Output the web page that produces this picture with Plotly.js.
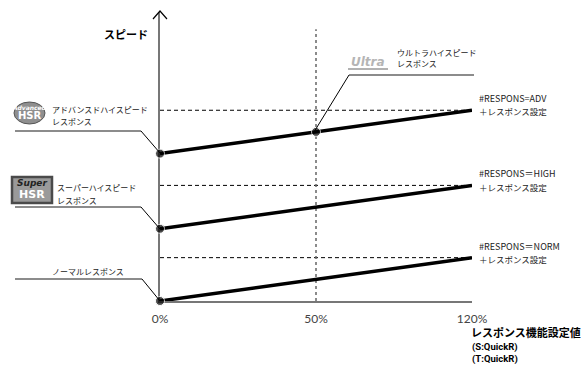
<!DOCTYPE html>
<html>
<head>
<meta charset="utf-8">
<script src="https://cdn.plot.ly/plotly-3.0.1.min.js"></script>
<style>html,body{margin:0;padding:0;background:#fff;}#chart{width:587px;height:368px;}</style>
</head>
<body>
<div id="chart"></div>
<script>
// ---- data ----
const xPos = [0, 1, 2];
const xLabels = ['0%', '50%', '120%'];
const advX = [0, 1, 2];
const advY = [51, 58.5, 66];
const highX = [0, 2];
const highY = [25, 40];
const normX = [0, 2];
const normY = [0, 15];
const refLevels = [66, 40, 15];
const guideX = [1, 1];
const guideY = [0, 94];
const seriesLabels = ['#RESPONS=ADV', '#RESPONS＝HIGH', '#RESPONS＝NORM'];
const seriesSub = '＋レスポンス設定';

const JP = '"Noto Sans CJK JP", "Noto Sans", sans-serif';
// pixel -> paper helpers (decorations only)
const L = 160, R = 472, T = 12, B = 301;
const px = x => (x - L) / (R - L);
const py = y => (B - y) / (B - T);

const traces = [];
refLevels.forEach(v => traces.push({
  x: [xPos[0], xPos[2]], y: [v, v], mode: 'lines', hoverinfo: 'skip',
  line: {color: '#000', width: 1, dash: '4px,3px'}, cliponaxis: false
}));
traces.push({x: guideX, y: guideY, mode: 'lines', hoverinfo: 'skip',
  line: {color: '#666', width: 1.5, dash: '3px,3px'}, cliponaxis: false});
const main = (xs, ys, sizes) => ({x: xs, y: ys, mode: 'lines+markers', cliponaxis: false,
  line: {color: '#000', width: 3.5}, marker: {color: '#000', size: sizes}});
traces.push(main(advX, advY, [9, 9, 0]));
traces.push(main(highX, highY, [9, 0]));
traces.push(main(normX, normY, [9, 0]));

const shapes = [];
const seg = (x0, y0, x1, y1, color, width) => shapes.push({type: 'line', xref: 'paper', yref: 'paper',
  x0: px(x0), y0: py(y0), x1: px(x1), y1: py(y1), line: {color: color, width: width}});
// arrow head on y axis
shapes.push({type: 'path', xref: 'paper', yref: 'paper',
  path: `M ${px(153)},${py(19)} L ${px(160)},${py(11)} L ${px(167)},${py(19)}`,
  line: {color: '#000', width: 1.2}});
// leader lines
seg(15, 131, 141, 131, '#666', 1.5); seg(141, 131, 160, 153, '#000', 1);
seg(15, 207, 141, 207, '#666', 1.5); seg(141, 207, 160, 229, '#000', 1);
seg(15, 279, 142, 279, '#666', 1.5); seg(142, 279, 160, 301, '#000', 1);
seg(349, 75, 474, 75, '#666', 1.5); seg(349, 75, 314, 132, '#000', 1);
// logos
shapes.push({type: 'circle', xref: 'paper', yref: 'paper', x0: px(14), x1: px(45), y0: py(124), y1: py(102),
  fillcolor: '#8f8f8f', line: {color: '#555', width: 1}});
shapes.push({type: 'rect', xref: 'paper', yref: 'paper', x0: px(12), x1: px(52), y0: py(203), y1: py(177),
  fillcolor: '#9a9a9a', line: {color: '#4a4a4a', width: 2.5}});
seg(348, 69, 388, 69, '#999', 1.5);

const annotations = [];
const txt = (x, y, text, size, opts) => annotations.push(Object.assign({
  xref: 'paper', yref: 'paper', x: px(x), y: py(y), text: text, showarrow: false,
  xanchor: 'left', yanchor: 'middle', font: {family: JP, size: size, color: '#222'}
}, opts || {}));

txt(126, 34, '<b>スピード</b>', 11, {xanchor: 'center', font: {family: JP, size: 11, color: '#000'}});
txt(50, 109, 'アドバンスドハイスピード', 8);
txt(50, 122, 'レスポンス', 8);
txt(55, 187, 'スーパーハイスピード', 8);
txt(55, 200, 'レスポンス', 8);
txt(50, 271, 'ノーマルレスポンス', 8);
txt(395, 52, 'ウルトラハイスピード', 8);
txt(395, 64, 'レスポンス', 8);
const labY = [[98, 111], [174, 187], [246, 259]];
seriesLabels.forEach((s, i) => {
  txt(477, labY[i][0], s, 9);
  txt(477, labY[i][1], seriesSub, 8.5);
});
txt(469, 332, '<b>レスポンス機能設定値</b>', 11, {font: {family: JP, size: 11, color: '#000'}});
txt(470, 347, '<b>(S:QuickR)</b>', 9.5, {font: {family: 'Roboto, sans-serif', size: 9.5, color: '#000'}});
txt(470, 359, '<b>(T:QuickR)</b>', 9.5, {font: {family: 'Roboto, sans-serif', size: 9.5, color: '#000'}});
// logo texts
txt(29.5, 107, '<b><i>Advanced</i></b>', 6, {xanchor: 'center', font: {family: 'DejaVu Sans', size: 6, color: '#fff'}});
txt(29.5, 116, '<b>HSR</b>', 10, {xanchor: 'center', font: {family: 'DejaVu Sans', size: 10, color: '#fff'}});
txt(32, 183, '<b><i>Super</i></b>', 9, {xanchor: 'center', font: {family: 'DejaVu Sans', size: 9, color: '#222'}});
txt(32, 194, '<b>HSR</b>', 11, {xanchor: 'center', font: {family: 'DejaVu Sans', size: 11, color: '#fff'}});
txt(368, 62, '<b><i>Ultra</i></b>', 12, {xanchor: 'center', font: {family: 'DejaVu Sans', size: 12, color: '#b5b5b5'}});

const layout = {
  width: 587, height: 368,
  margin: {l: L, r: 587 - R, t: T, b: 368 - B, pad: 0},
  paper_bgcolor: '#fff', plot_bgcolor: '#fff',
  showlegend: false,
  xaxis: {range: [0, 2], tickvals: xPos, ticktext: xLabels, showgrid: false, zeroline: false,
    showline: true, linecolor: '#777', linewidth: 1.5, ticks: '', ticklabelstandoff: 6, layer: 'below traces',
    tickfont: {family: 'Lato, sans-serif', size: 12, color: '#444'}, fixedrange: true},
  yaxis: {range: [0, 100], showgrid: false, zeroline: false, showticklabels: false, layer: 'below traces',
    showline: true, linecolor: '#777', linewidth: 2, ticks: '', fixedrange: true},
  shapes: shapes,
  annotations: annotations
};
Plotly.newPlot('chart', traces, layout, {displayModeBar: false, staticPlot: true});
</script>
</body>
</html>
